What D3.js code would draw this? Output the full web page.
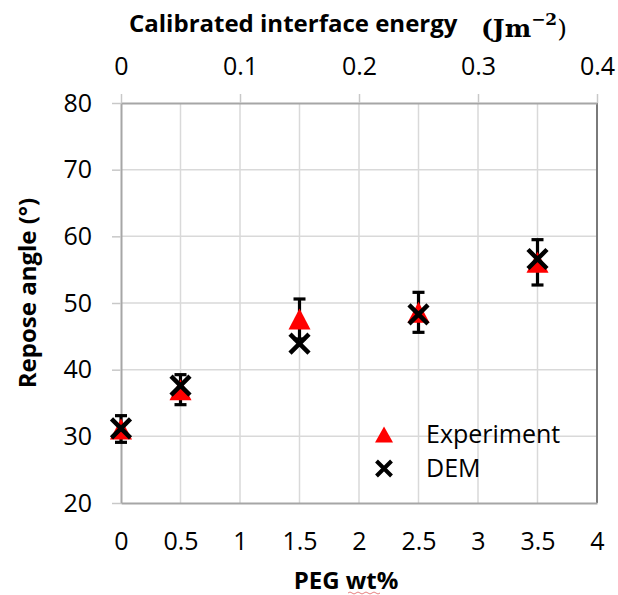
<!DOCTYPE html>
<html>
<head>
<meta charset="utf-8">
<script src="https://cdn.jsdelivr.net/npm/d3@7"></script>
<style>
  html, body { margin: 0; padding: 0; background: #fff; }
  svg { display: block; }
</style>
</head>
<body>
<script>
// ---- data ----
const pegWt = [0, 0.5, 1.5, 2.5, 3.5];
const experiment = [31.1, 37.0, 47.6, 48.6, 56.1];
const experimentErr = [2.0, 2.25, 3.0, 3.0, 3.4];
const dem = [31.2, 37.6, 43.9, 48.3, 56.6];
const xTicks = [0, 0.5, 1, 1.5, 2, 2.5, 3, 3.5, 4];
const topTicks = [0, 0.1, 0.2, 0.3, 0.4];
const yTicks = [20, 30, 40, 50, 60, 70, 80];
const seriesNames = ["Experiment", "DEM"];

const W = 618, H = 595;
const L = 121, R = 597, T = 103, B = 503;
const FONT = "'Open Sans', sans-serif";

const svg = d3.select("body").append("svg").attr("width", W).attr("height", H);

const x = d3.scaleLinear().domain([0, 4]).range([L, R]);
const xTop = d3.scaleLinear().domain([0, 0.4]).range([L, R]);
const y = d3.scaleLinear().domain([20, 80]).range([B, T]);

// gridlines
const grid = svg.append("g");
grid.selectAll("line.v").data(xTicks.slice(1, -1)).join("line")
  .attr("x1", d => x(d)).attr("x2", d => x(d)).attr("y1", T).attr("y2", B)
  .attr("stroke", "#d9d9d9").attr("stroke-width", 1.5);
grid.selectAll("line.h").data(yTicks.slice(1, -1)).join("line")
  .attr("x1", L).attr("x2", R).attr("y1", d => y(d)).attr("y2", d => y(d))
  .attr("stroke", "#d9d9d9").attr("stroke-width", 1.5);

// right border
svg.append("line").attr("x1", R).attr("x2", R).attr("y1", T).attr("y2", B)
  .attr("stroke", "#7a7a7a").attr("stroke-width", 2);

function styleAxis(g) {
  g.selectAll("path.domain").attr("stroke", "#a6a6a6").attr("stroke-width", 2);
  g.selectAll(".tick line").attr("stroke", "#c8c8c8").attr("stroke-width", 1.5);
  g.selectAll("text").attr("font-family", FONT).attr("font-size", 25).attr("fill", "#000");
}

// bottom axis
const gB = svg.append("g").attr("transform", `translate(0,${B})`)
  .call(d3.axisBottom(x).tickValues(xTicks).tickSize(0).tickPadding(29).tickFormat(d3.format("")));
styleAxis(gB);

// top axis
const gT = svg.append("g").attr("transform", `translate(0,${T})`)
  .call(d3.axisTop(xTop).tickValues(topTicks).tickSize(9).tickSizeOuter(0).tickPadding(19).tickFormat(d3.format("")));
styleAxis(gT);

// left axis
const gL = svg.append("g").attr("transform", `translate(${L},0)`)
  .call(d3.axisLeft(y).tickValues(yTicks).tickSize(9).tickSizeOuter(0).tickPadding(20));
styleAxis(gL);

// error bars (experiment)
const eb = svg.append("g").attr("stroke", "#000").attr("stroke-width", 3.2);
pegWt.forEach((p, i) => {
  const cx = x(p), y1 = y(experiment[i] + experimentErr[i]), y2 = y(experiment[i] - experimentErr[i]);
  eb.append("line").attr("x1", cx).attr("x2", cx).attr("y1", y1).attr("y2", y2);
  eb.append("line").attr("x1", cx - 6).attr("x2", cx + 6).attr("y1", y1).attr("y2", y1);
  eb.append("line").attr("x1", cx - 6).attr("x2", cx + 6).attr("y1", y2).attr("y2", y2);
});

// triangles
function triPath(cx, cy, w, h) {
  return `M${cx},${cy - h / 2}L${cx + w / 2},${cy + h / 2}L${cx - w / 2},${cy + h / 2}Z`;
}
function xPath(cx, cy, s) {
  return `M${cx - s},${cy - s}L${cx + s},${cy + s}M${cx - s},${cy + s}L${cx + s},${cy - s}`;
}
svg.append("g").selectAll("path").data(pegWt).join("path")
  .attr("d", (p, i) => triPath(x(p), y(experiment[i]), 22, 21))
  .attr("fill", "#ff0000");

svg.append("g").selectAll("path").data(pegWt).join("path")
  .attr("d", (p, i) => xPath(x(p), y(dem[i]), 9.5))
  .attr("fill", "none").attr("stroke", "#000").attr("stroke-width", 4.5);

// legend
const lg = svg.append("g");
lg.append("path").attr("d", triPath(384, 434.5, 18, 16)).attr("fill", "#ff0000");
lg.append("path").attr("d", xPath(384, 468.5, 7.5)).attr("fill", "none").attr("stroke", "#000").attr("stroke-width", 4);
lg.selectAll("text").data(seriesNames).join("text")
  .attr("x", 426).attr("y", (d, i) => 442.5 + i * 34.5)
  .attr("font-family", FONT).attr("font-size", 25).attr("fill", "#000")
  .text(d => d);

// top title
svg.append("text").attr("x", 129).attr("y", 32)
  .attr("font-family", FONT).attr("font-size", 24).attr("font-weight", "bold")
  .text("Calibrated interface energy");
const unit = svg.append("text").attr("x", 481).attr("y", 37)
  .attr("font-family", "'DejaVu Serif', serif").attr("font-size", 25).attr("font-weight", "bold");
unit.append("tspan").text("(Jm");
unit.append("tspan").attr("font-size", 17).attr("dy", -12).text("\u22122");
unit.append("tspan").attr("dy", 12).attr("font-weight", "normal").text(")");

// y title
svg.append("text").attr("transform", `translate(36,${(T + B) / 2 - 10}) rotate(-90)`)
  .attr("text-anchor", "middle")
  .attr("font-family", FONT).attr("font-size", 24).attr("font-weight", "bold")
  .text("Repose angle (\u00b0)");

// x title
svg.append("text").attr("x", 346).attr("y", 589).attr("text-anchor", "middle")
  .attr("font-family", FONT).attr("font-size", 24).attr("font-weight", "bold")
  .text("PEG wt%");
// spellcheck squiggle under "wt"
svg.append("path").attr("d", "M348,593 q2,-2 4,0 t4,0 t4,0 t4,0 t4,0 t4,0 t4,0 t4,0")
  .attr("fill", "none").attr("stroke", "#e06060").attr("stroke-width", 0.8);
</script>
</body>
</html>
